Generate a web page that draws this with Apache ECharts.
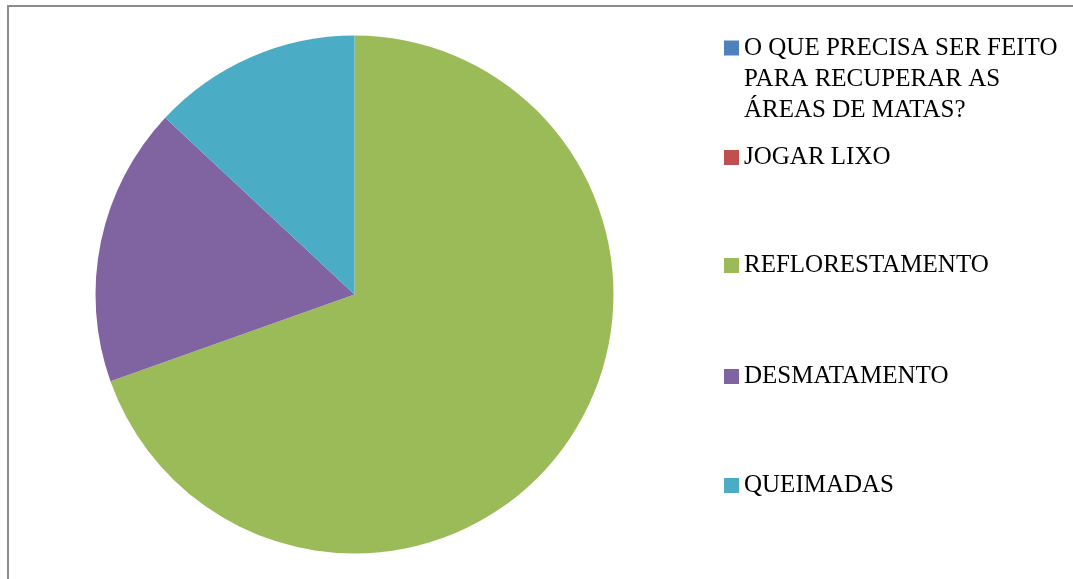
<!DOCTYPE html>
<html>
<head>
<meta charset="utf-8">
<script src="https://cdn.jsdelivr.net/npm/echarts@6/dist/echarts.min.js"></script>
<style>
  html, body { margin: 0; padding: 0; background: #fff; }
  #chart { width: 1073px; height: 579px; }
</style>
</head>
<body>
<div id="chart"></div>
<script>
// categories and values
const categories = [
  "O QUE PRECISA SER FEITO PARA RECUPERAR AS ÁREAS DE MATAS?",
  "JOGAR LIXO",
  "REFLORESTAMENTO",
  "DESMATAMENTO",
  "QUEIMADAS"
];
const values = [0, 0, 16, 4, 3];
const colors = ["#4f81bd", "#c0504d", "#9bbb59", "#8064a2", "#4bacc6"];

// legend rows: vertical center of each marker
const legendCenters = [48, 157.5, 265.5, 376.5, 485.5];
const lineH = 31;

const chart = echarts.init(document.getElementById("chart"));

// wrap the long first label like the original
function wrapName(name) {
  if (name === categories[0]) {
    return "O QUE PRECISA SER FEITO\nPARA RECUPERAR AS\nÁREAS DE MATAS?";
  }
  return name;
}

// tall icon box for the 3-line entry, square drawn at the first line
const tallIcon = "path://M0,0L0,0.01M0,8L15,8L15,23L0,23ZM15,93L15,92.99";

const legends = categories.map((name, i) => {
  const multi = i === 0;
  return {
    data: [multi ? { name: name, icon: tallIcon } : name],
    orient: "vertical",
    left: 724,
    top: legendCenters[i] - lineH / 2,
    padding: 0,
    icon: "rect",
    itemWidth: 15,
    itemHeight: multi ? lineH * 3 : 15,
    selectedMode: false,
    formatter: wrapName,
    textStyle: {
      fontFamily: "Liberation Serif",
      fontSize: 25,
      color: "#000",
      lineHeight: lineH
    }
  };
});

chart.setOption({
  backgroundColor: "#fff",
  animation: false,
  color: colors,
  legend: legends,
  graphic: [
    {
      type: "rect",
      shape: { x: 8, y: 6, width: 1200, height: 700 },
      style: { fill: "none", stroke: "#8c8c8c", lineWidth: 2 },
      silent: true
    }
  ],
  series: [
    {
      type: "pie",
      center: [354.5, 294.5],
      radius: 259,
      startAngle: 90,
      clockwise: true,
      label: { show: false },
      labelLine: { show: false },
      emphasis: { disabled: true },
      itemStyle: { borderWidth: 0 },
      data: categories.map((name, i) => ({
        name: name,
        value: values[i],
        itemStyle: { color: colors[i] }
      }))
    }
  ]
});
</script>
</body>
</html>
